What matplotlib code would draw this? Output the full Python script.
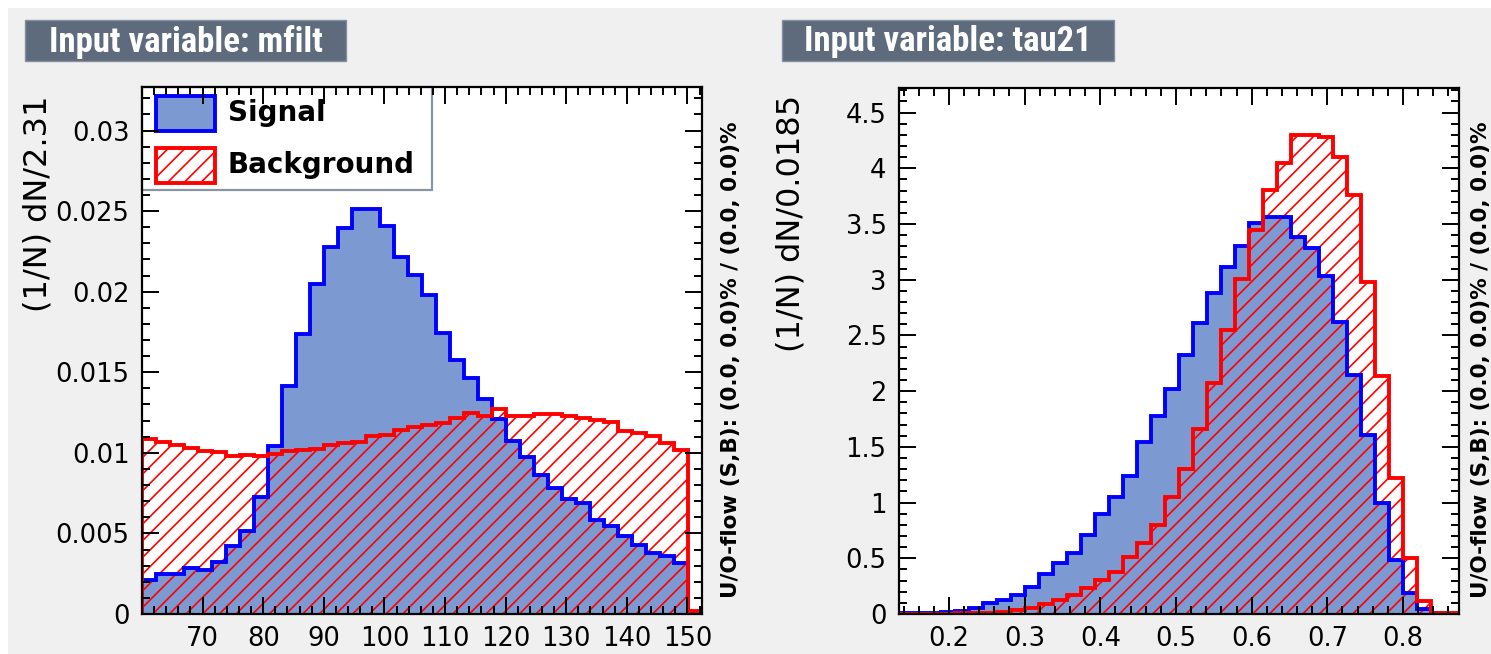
import matplotlib
matplotlib.use("Agg")
import matplotlib.pyplot as plt
import numpy as np
from matplotlib.patches import Rectangle
from matplotlib.ticker import MultipleLocator, FixedLocator, FixedFormatter

# ---------------- data ----------------
# mfilt: 40 bins of width 2.31 starting at 60
mfilt_lo, mfilt_width, mfilt_nbins = 60.0, 2.31, 40
mfilt_signal = [
    0.00211, 0.00246, 0.00246, 0.00283, 0.00273, 0.00324, 0.00424, 0.00516,
    0.00727, 0.01040, 0.01412, 0.01740, 0.02050, 0.02277, 0.02397, 0.02511,
    0.02511, 0.02406, 0.02215, 0.02102, 0.01978, 0.01744, 0.01575, 0.01467,
    0.01335, 0.01207, 0.01072, 0.00975, 0.00865, 0.00782, 0.00714, 0.00689,
    0.00585, 0.00543, 0.00481, 0.00429, 0.00378, 0.00357, 0.00319, 0.00000,
]
mfilt_background = [
    0.01087, 0.01070, 0.01051, 0.01030, 0.01010, 0.01003, 0.00978, 0.00985,
    0.00980, 0.00995, 0.01010, 0.01020, 0.01025, 0.01050, 0.01061, 0.01070,
    0.01103, 0.01110, 0.01140, 0.01158, 0.01172, 0.01188, 0.01217, 0.01248,
    0.01231, 0.01273, 0.01227, 0.01230, 0.01238, 0.01238, 0.01230, 0.01217,
    0.01202, 0.01190, 0.01134, 0.01124, 0.01103, 0.01062, 0.01020, 0.00020,
]
mfilt_xticks = [70, 80, 90, 100, 110, 120, 130, 140, 150]
mfilt_yticks = [0, 0.005, 0.01, 0.015, 0.02, 0.025, 0.03]
mfilt_yticklabels = ["0", "0.005", "0.01", "0.015", "0.02", "0.025", "0.03"]

# tau21: 40 bins of width 0.0185 starting at 0.134
tau21_lo, tau21_width, tau21_nbins = 0.134, 0.0185, 40
tau21_signal = [
    0.005, 0.005, 0.012, 0.015, 0.030, 0.057, 0.100, 0.126, 0.170, 0.240,
    0.356, 0.454, 0.550, 0.709, 0.894, 1.046, 1.238, 1.543, 1.776, 2.015,
    2.323, 2.607, 2.882, 3.115, 3.303, 3.510, 3.558, 3.558, 3.384, 3.280,
    3.034, 2.622, 2.144, 1.605, 0.998, 0.484, 0.185, 0.042, 0.005, 0.000,
]
tau21_background = [
    0.002, 0.002, 0.003, 0.004, 0.005, 0.006, 0.012, 0.021, 0.036, 0.057,
    0.090, 0.126, 0.170, 0.230, 0.305, 0.380, 0.508, 0.634, 0.799, 1.046,
    1.302, 1.660, 2.069, 2.547, 3.010, 3.444, 3.809, 4.048, 4.296, 4.302,
    4.281, 4.100, 3.758, 2.980, 2.135, 1.217, 0.500, 0.120, 0.008, 0.005,
]
tau21_xticks = [0.2, 0.3, 0.4, 0.5, 0.6, 0.7, 0.8]
tau21_yticks = [0, 0.5, 1, 1.5, 2, 2.5, 3, 3.5, 4, 4.5]
tau21_yticklabels = ["0", "0.5", "1", "1.5", "2", "2.5", "3", "3.5", "4", "4.5"]

titles = ["Input variable: mfilt", "Input variable: tau21"]
ylabels = ["(1/N) dN/2.31", "(1/N) dN/0.0185"]
overflow_text = "U/O-flow (S,B): (0.0, 0.0)% / (0.0, 0.0)%"
legend_labels = ["Signal", "Background"]

# ---------------- style ----------------
W, H = 1491, 654
BG = "#f0f0f0"
SIG_FILL = "#7d99d1"
SIG_LINE = "#0000ff"
BKG_LINE = "#ff0000"
TITLE_BOX = "#5e6b7d"
LW = 2.8

plt.rcParams["font.family"] = ["DejaVu Sans"]
plt.rcParams["hatch.linewidth"] = 1.2

fig = plt.figure(figsize=(W / 100, H / 100), dpi=100, facecolor=BG)


def fx(px):
    return px / W


def fy(py):
    return 1 - py / H


def make_axes(left, top, right, bottom):
    return fig.add_axes([fx(left), fy(bottom), fx(right - left), (bottom - top) / H])


def style_axes(ax, xmin_, ymin_):
    ax.set_facecolor("white")
    for s in ax.spines.values():
        s.set_linewidth(1.6)
        s.set_color("black")
        s.set_zorder(10)
    ax.xaxis.set_zorder(9)
    ax.yaxis.set_zorder(9)
    ax.xaxis.set_minor_locator(MultipleLocator(xmin_))
    ax.yaxis.set_minor_locator(MultipleLocator(ymin_))
    ax.tick_params(which="both", direction="in", top=True, right=True,
                   width=1.4, color="black")
    ax.tick_params(which="major", length=12, labelsize=18.5, pad=9)
    ax.tick_params(which="minor", length=6)


def draw_panel(ax, lo, width, nbins, sig, bkg):
    edges = lo + width * np.arange(nbins + 1)
    ax.stairs(sig, edges, fill=True, facecolor=SIG_FILL, edgecolor="none",
              baseline=0, zorder=1)
    ax.stairs(bkg, edges, fill=True, facecolor="none", edgecolor=BKG_LINE,
              hatch="//", linewidth=0, baseline=0, zorder=2)
    ax.stairs(sig, edges, color=SIG_LINE, linewidth=LW, baseline=0, zorder=3)
    ax.stairs(bkg, edges, color=BKG_LINE, linewidth=LW, baseline=0, zorder=4)
    ax.set_xlim(edges[0], edges[-1])
    return edges


# ---- page margins ----
fig.patches.append(Rectangle((0, fy(8)), 1, 8 / H, transform=fig.transFigure,
                             facecolor="white", edgecolor="none"))
fig.patches.append(Rectangle((0, 0), fx(8), 1, transform=fig.transFigure,
                             facecolor="white", edgecolor="none"))

# ---- left panel: mfilt ----
axL = make_axes(142, 87, 702, 614)
draw_panel(axL, mfilt_lo, mfilt_width, mfilt_nbins, mfilt_signal, mfilt_background)
axL.set_ylim(0, 0.0327)
style_axes(axL, 2, 0.001)
axL.xaxis.set_major_locator(FixedLocator(mfilt_xticks))
axL.yaxis.set_major_locator(FixedLocator(mfilt_yticks))
axL.yaxis.set_major_formatter(FixedFormatter(mfilt_yticklabels))

# ---- right panel: tau21 ----
axR = make_axes(899, 88, 1459, 614)
draw_panel(axR, tau21_lo, tau21_width, tau21_nbins, tau21_signal, tau21_background)
axR.set_ylim(0, 4.72)
style_axes(axR, 0.02, 0.1)
axR.xaxis.set_major_locator(FixedLocator(tau21_xticks))
axR.xaxis.set_major_formatter(FixedFormatter([f"{v:g}" for v in tau21_xticks]))
axR.yaxis.set_major_locator(FixedLocator(tau21_yticks))
axR.yaxis.set_major_formatter(FixedFormatter(tau21_yticklabels))

# ---- title boxes ----
for (x0, x1), text in zip([(25, 346), (782, 1114)], titles):
    fig.patches.append(Rectangle((fx(x0), fy(61)), fx(x1 - x0), 41 / H,
                                 transform=fig.transFigure, facecolor=TITLE_BOX,
                                 edgecolor="#8691a0", linewidth=1.0))
    fig.text(fx((x0 + x1) / 2), fy(42), text, color="white", fontsize=25,
             fontweight="bold", ha="center", va="center",
             family=["Roboto Condensed", "Liberation Sans Narrow", "DejaVu Sans"])

# ---- y-axis titles ----
for xc, ytop, text in [(38, 95, ylabels[0]), (791, 95, ylabels[1])]:
    fig.text(fx(xc), fy(ytop), text, rotation=90, rotation_mode="anchor",
             ha="right", va="center", fontsize=23, color="black")

# ---- under/overflow notes ----
for xc in (731, 1481):
    fig.text(fx(xc), fy(598), overflow_text, rotation=90, rotation_mode="anchor",
             ha="left", va="center", fontsize=15.5, fontweight="bold", color="black")

# ---- legend (inside the left frame, beneath the ticks) ----
tf = fig.transFigure
axL.add_patch(Rectangle((fx(142), fy(190)), fx(432 - 142), 103 / H, transform=tf,
                        facecolor="white", edgecolor="#8a94a3", linewidth=1.6,
                        zorder=5, clip_on=False))
axL.add_patch(Rectangle((fx(156), fy(131)), fx(59), 35 / H, transform=tf,
                        facecolor=SIG_FILL, edgecolor=SIG_LINE, linewidth=LW,
                        zorder=6, clip_on=False))
axL.add_patch(Rectangle((fx(156), fy(183)), fx(59), 35 / H, transform=tf,
                        facecolor="white", edgecolor=BKG_LINE, hatch="//",
                        linewidth=LW, zorder=6, clip_on=False))
axL.text(fx(228), fy(113), legend_labels[0], transform=tf, fontsize=20,
         fontweight="bold", ha="left", va="center", zorder=7)
axL.text(fx(228), fy(165), legend_labels[1], transform=tf, fontsize=20,
         fontweight="bold", ha="left", va="center", zorder=7)

fig.savefig("out.png", dpi=100, facecolor=BG)
